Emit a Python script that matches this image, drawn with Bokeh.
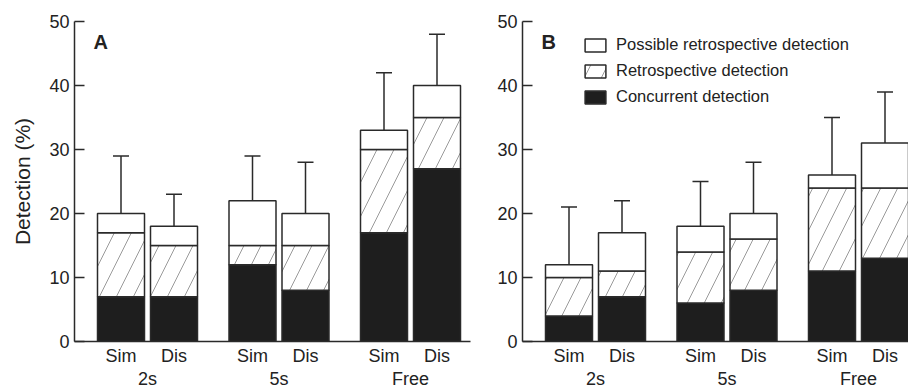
from bokeh.plotting import figure
from bokeh.layouts import row
from bokeh.models import Range1d, FixedTicker, Label, Legend, LegendItem, LinearAxis
from bokeh.embed import file_html
from bokeh.resources import INLINE

groups = ["2s", "5s", "Free"]
conditions = ["Sim", "Dis"]
y_ticks = [0, 10, 20, 30, 40, 50]

# Panel A (segment heights, %)
a_concurrent = [7, 7, 12, 8, 17, 27]
a_retro = [10, 8, 3, 7, 13, 8]
a_possible = [3, 3, 7, 5, 3, 5]
a_err = [9, 5, 7, 8, 9, 8]

# Panel B (segment heights, %)
b_concurrent = [4, 7, 6, 8, 11, 13]
b_retro = [6, 4, 8, 8, 13, 11]
b_possible = [2, 6, 4, 4, 2, 7]
b_err = [9, 5, 7, 8, 9, 8]

FONT = "Liberation Sans"
TXT = "#222222"
LINE = "#2a2a2a"

OFF, GSTEP, SSTEP, BW, CAP = 46.5, 131.5, 53.0, 47.0, 8.0
xs = [OFF + gi * GSTEP + si * SSTEP for gi in range(len(groups)) for si in range(len(conditions))]
group_x = [OFF + gi * GSTEP + SSTEP / 2 for gi in range(len(groups))]
tick_labels = {x: c for x, c in zip(xs, conditions * len(groups))}
group_labels = {x: g for x, g in zip(group_x, groups)}


def make_panel(conc, retro, poss, err, letter, width, xend, left_border, right_border, ylabel):
    p = figure(width=width, height=391, output_backend="svg", toolbar_location=None,
               x_range=Range1d(0, xend), y_range=Range1d(0, 50),
               min_border_left=left_border, min_border_right=right_border,
               min_border_top=21, min_border_bottom=50)
    p.outline_line_color = None
    p.grid.visible = False
    p.background_fill_color = "white"

    b1 = [0] * len(conc)
    t1 = [a for a in conc]
    t2 = [a + b for a, b in zip(t1, retro)]
    t3 = [a + b for a, b in zip(t2, poss)]
    et = [a + b for a, b in zip(t3, err)]

    r_conc = p.vbar(x=xs, bottom=b1, top=t1, width=BW, fill_color="#1e1e1e",
                    line_color=LINE, line_width=1.5)
    r_retro = p.vbar(x=xs, bottom=t1, top=t2, width=BW, fill_color="white",
                     hatch_pattern="/", hatch_color="#808080", hatch_scale=34,
                     hatch_weight=0.8, line_color=LINE, line_width=1.5)
    r_poss = p.vbar(x=xs, bottom=t2, top=t3, width=BW, fill_color="white",
                    line_color=LINE, line_width=1.5)
    p.segment(x0=xs, y0=t3, x1=xs, y1=et, line_color=LINE, line_width=1.5)
    p.segment(x0=[x - CAP for x in xs], y0=et, x1=[x + CAP for x in xs], y1=et,
              line_color=LINE, line_width=1.5)

    ya = p.yaxis[0]
    ya.ticker = FixedTicker(ticks=y_ticks)
    ya.major_tick_in = 10
    ya.major_tick_out = 0
    ya.minor_tick_line_color = None
    ya.axis_line_color = LINE
    ya.axis_line_width = 1.5
    ya.major_tick_line_color = LINE
    ya.major_tick_line_width = 1.5
    ya.major_label_text_font = FONT
    ya.major_label_text_font_size = "18px"
    ya.major_label_text_color = TXT
    ya.major_label_standoff = 5
    if ylabel:
        ya.axis_label = ylabel
        ya.axis_label_text_font = FONT
        ya.axis_label_text_font_size = "21px"
        ya.axis_label_text_font_style = "normal"
        ya.axis_label_text_color = TXT
        ya.axis_label_standoff = 12

    xa = p.xaxis[0]
    xa.ticker = FixedTicker(ticks=xs)
    xa.major_label_overrides = tick_labels
    xa.major_tick_line_color = None
    xa.major_tick_in = 0
    xa.major_tick_out = 0
    xa.minor_tick_line_color = None
    xa.minor_tick_out = 0
    xa.axis_line_color = LINE
    xa.axis_line_width = 1.5
    xa.major_label_text_font = FONT
    xa.major_label_text_font_size = "18px"
    xa.major_label_text_color = TXT
    xa.major_label_standoff = 4

    ga = LinearAxis(ticker=FixedTicker(ticks=group_x), major_label_overrides=group_labels,
                    axis_line_color=None, major_tick_line_color=None,
                    major_tick_in=0, major_tick_out=0, minor_tick_out=0,
                    minor_tick_line_color=None, major_label_standoff=0,
                    major_label_text_font=FONT, major_label_text_font_size="18px",
                    major_label_text_color=TXT)
    p.add_layout(ga, "below")

    p.add_layout(Label(x=19, y=300, x_units="screen", y_units="screen", text=letter,
                       text_font=FONT, text_font_size="20px", text_font_style="bold",
                       text_color=TXT, text_baseline="alphabetic"))
    return p, r_conc, r_retro, r_poss


pa, _, _, _ = make_panel(a_concurrent, a_retro, a_possible, a_err, "A", 472, 396, 74, 2,
                         "Detection (%)")
pb, rc, rr, rp = make_panel(b_concurrent, b_retro, b_possible, b_err, "B", 436, 386, 50, 0, None)

legend = Legend(items=[LegendItem(label="Possible retrospective detection", renderers=[rp]),
                       LegendItem(label="Retrospective detection", renderers=[rr]),
                       LegendItem(label="Concurrent detection", renderers=[rc])],
                location=(60, 235), padding=0, margin=0, spacing=7,
                glyph_width=26, glyph_height=16, label_height=16,
                label_standoff=8, border_line_color=None, background_fill_alpha=0,
                label_text_font=FONT, label_text_font_size="16.5px", label_text_color=TXT)
pb.add_layout(legend)

layout = row(pa, pb)
open("out.html", "w").write(file_html(layout, INLINE))
